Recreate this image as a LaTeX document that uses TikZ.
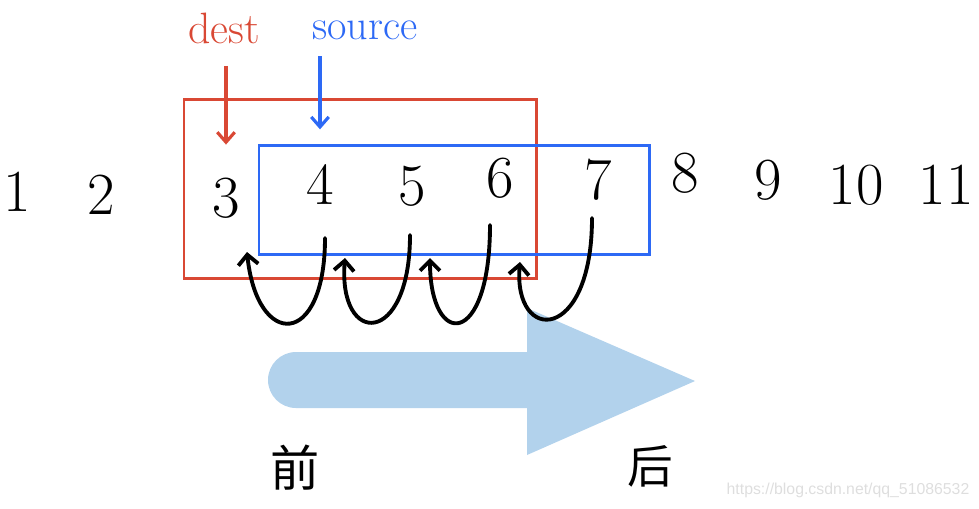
\documentclass[tikz,border=0pt]{standalone}
\usepackage{fontspec}
\usepackage{xcolor}
\usepackage{tikz}
\usetikzlibrary{arrows.meta,calc}
\newfontfamily\cjkfont{Noto Sans CJK SC}
\newfontfamily\markfont{Liberation Sans}
\definecolor{destred}{RGB}{217,72,52}
\definecolor{srcblue}{RGB}{45,105,245}
\definecolor{flowblue}{RGB}{178,210,236}
\definecolor{markgray}{RGB}{222,222,222}

\begin{document}
\begin{tikzpicture}[x=0.02cm, y=-0.02cm, thick,
  digit/.style={inner sep=0pt, font=\fontsize{34}{38}\selectfont},
  hop/.style={-{Straight Barb[length=2mm,width=4mm]}, line width=2.2pt, line cap=round}]
  \useasboundingbox (0,0) rectangle (979,508);
  % the row of numbers
  \foreach \v/\x/\y in {1/17/192, 2/101/195, 3/226/198, 4/320/185, 5/412/186, 6/500/178, 7/598/180, 8/685/173, 9/768/180, 10/856/185, 11/946/185}
    \node[digit] (n\v) at (\x,\y) {\v};
  % dest / source windows
  \draw[destred, line width=1.7pt] (184,99) rectangle (536,278);
  \draw[srcblue, line width=1.7pt] (259,145) rectangle (649,254);
  \node[destred, font=\fontsize{25}{28}\selectfont] (dest) at (224,28) {dest};
  \node[srcblue, font=\fontsize{24}{28}\selectfont] (source) at (365,30) {source};
  \draw[destred, -{Straight Barb[length=2mm,width=3.5mm]}, line width=1.8pt, shorten <=0.32cm, shorten >=0.65cm] (dest.south -| n3) -- (n3.north);
  \draw[srcblue, -{Straight Barb[length=2mm,width=3.5mm]}, line width=1.8pt, shorten <=0.2cm, shorten >=0.7cm] (source.south -| n4) -- (n4.north);
  % direction of the copy
  \fill[flowblue] (527,308) -- (695,381) -- (527,455) -- cycle;
  \fill[flowblue, rounded corners=0.56cm] (268,352) rectangle (555,408);
  % each element moves one step forward
  \draw[hop] ($(n4)+(5,53)$) .. controls +(0,111) and +(10,97) .. ($(n3)+(21,54)$);
  \draw[hop] ($(n5)+(-2,49)$) .. controls +(0,112) and +(-7,89) .. ($(n4)+(25,73)$);
  \draw[hop] ($(n6)+(-10,47)$) .. controls +(0,124) and +(0,91) .. ($(n5)+(18,72)$);
  \draw[hop] ($(n7)+(-6,38)$) .. controls +(0,126) and +(-7,82) .. ($(n6)+(20,84)$);
  \node[font=\cjkfont\fontsize{28}{32}\selectfont] (front) at (295,468) {前};
  \node[font=\cjkfont\fontsize{26}{30}\selectfont] (back) at (650,466) {后};
  \node[markgray, font=\markfont\fontsize{9}{11}\selectfont] (mark) at (848,490) {https://blog.csdn.net/qq\_51086532};
\end{tikzpicture}
\end{document}
